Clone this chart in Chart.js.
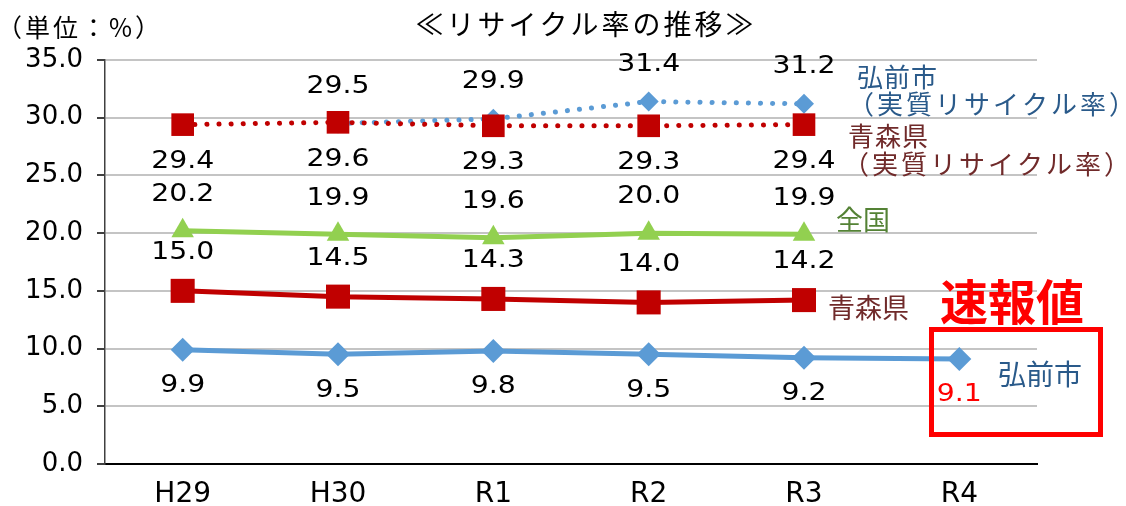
<!DOCTYPE html>
<html><head><meta charset="utf-8">
<script src="https://cdn.jsdelivr.net/npm/chart.js@4.4.1/dist/chart.umd.min.js"></script>
<style>html,body{margin:0;padding:0;background:#fff;}#wrap{width:1126px;height:506px;}</style>
</head><body><div id="wrap"><canvas id="c" width="1126" height="506"></canvas></div>
<script>
const categories = ['H29','H30','R1','R2','R3','R4'];
const hirosaki = [9.9, 9.5, 9.8, 9.5, 9.2, 9.1];
const aomori = [15.0, 14.5, 14.3, 14.0, 14.2, null];
const zenkoku = [20.2, 19.9, 19.6, 20.0, 19.9, null];
const aomoriJisshitsu = [29.4, 29.6, 29.3, 29.3, 29.4, null];
const hirosakiJisshitsu = [null, 29.5, 29.9, 31.4, 31.2, null];
const yMin = 0, yMax = 35, yStep = 5;
const titleText = '≪リサイクル率の推移≫';
const unitText = '（単位：%）';
const flashLabel = '速報値';

const BLUE = '#5B9BD5', RED = '#C00000', GREEN = '#92D050';
const NUMFONT = '"DejaVu Sans", sans-serif';
const JPFONT = '"Noto Sans CJK JP", sans-serif';

function spacing(ctx, px) { try { ctx.letterSpacing = px + 'px'; } catch (e) {} }

const labelPlugin = {
  id: 'labels',
  afterDatasetsDraw(chart) {
    const ctx = chart.ctx;
    chart.data.datasets.forEach((ds, i) => {
      const meta = chart.getDatasetMeta(i);
      meta.data.forEach((pt, j) => {
        const v = ds.data[j];
        if (v == null) return;
        ctx.save();
        ctx.font = '24px ' + NUMFONT;
        ctx.fillStyle = (ds.labelColors && ds.labelColors[j]) || '#000';
        ctx.textAlign = 'center';
        ctx.textBaseline = 'middle';
        ctx.translate(pt.x, pt.y + ds.labelOffset);
        ctx.scale(1.18, 1);
        ctx.fillText(v.toFixed(1), 0, 0);
        ctx.restore();
      });
    });
  },
  afterDraw(chart) {
    const ctx = chart.ctx;
    ctx.save();
    ctx.textBaseline = 'middle';
    // title
    ctx.font = '28px ' + JPFONT;
    ctx.fillStyle = '#000';
    ctx.textAlign = 'center';
    spacing(ctx, 3);
    ctx.fillText(titleText, 586, 24);
    ctx.textAlign = 'left';
    ctx.font = '25px ' + JPFONT;
    spacing(ctx, 3);
    ctx.fillText(unitText, -3, 27);
    // series names
    ctx.font = '26px ' + JPFONT;
    ctx.fillStyle = '#2A5A8A';
    spacing(ctx, 1);
    ctx.fillText('弘前市', 857, 77);
    spacing(ctx, 3);
    ctx.fillText('（実質リサイクル率）', 848, 104);
    ctx.fillStyle = '#702A2A';
    spacing(ctx, 1);
    ctx.fillText('青森県', 848, 136);
    spacing(ctx, 3);
    ctx.fillText('（実質リサイクル率）', 843, 164);
    spacing(ctx, 0);
    ctx.font = '28px ' + JPFONT;
    ctx.fillStyle = '#2A5A8A';
    ctx.fillText('弘前市', 998, 374);
    ctx.font = '27px ' + JPFONT;
    ctx.fillStyle = '#702A2A';
    ctx.fillText('青森県', 828, 308);
    ctx.fillStyle = '#548235';
    ctx.fillText('全国', 836, 220);
    // flash label
    ctx.fillStyle = '#FF0000';
    ctx.font = 'bold 48px ' + JPFONT;
    ctx.fillText(flashLabel, 940, 302);
    ctx.strokeStyle = '#FF0000';
    ctx.lineWidth = 5;
    ctx.strokeRect(931.5, 329.5, 169, 105);
    ctx.restore();
  }
};

new Chart(document.getElementById('c'), {
  type: 'line',
  data: {
    labels: categories,
    datasets: [
      { label: '弘前市', data: hirosaki, borderColor: BLUE, backgroundColor: BLUE,
        borderWidth: 5, pointStyle: 'rectRot', pointRadius: 12, pointBorderWidth: 0,
        labelOffset: 36, labelColors: [null, null, null, null, null, '#FF0000'] },
      { label: '青森県', data: aomori, borderColor: RED, backgroundColor: RED,
        borderWidth: 5, pointStyle: 'rect', pointRadius: 17, pointBorderWidth: 0,
        labelOffset: -38 },
      { label: '全国', data: zenkoku, borderColor: GREEN, backgroundColor: GREEN,
        borderWidth: 5, pointStyle: 'triangle', pointRadius: 13, pointBorderWidth: 0,
        labelOffset: -36 },
      { label: '青森県（実質リサイクル率）', data: aomoriJisshitsu, borderColor: RED, backgroundColor: RED,
        borderWidth: 5, borderDash: [0.1, 12], borderCapStyle: 'round',
        pointStyle: 'rect', pointRadius: 16, pointBorderWidth: 0, labelOffset: 37 },
      { label: '弘前市（実質リサイクル率）', data: hirosakiJisshitsu, borderColor: BLUE, backgroundColor: BLUE,
        borderWidth: 5, borderDash: [0.1, 12], borderCapStyle: 'round',
        pointStyle: 'rectRot', pointRadius: 10, pointBorderWidth: 0, labelOffset: -37 }
    ]
  },
  options: {
    responsive: false,
    devicePixelRatio: 1,
    animation: false,
    layout: { padding: { top: 60, right: 89, left: 0, bottom: 0 } },
    plugins: { legend: { display: false }, tooltip: { enabled: false }, title: { display: false } },
    elements: { line: { tension: 0 } },
    scales: {
      x: {
        offset: true,
        grid: { display: false, drawTicks: false },
        border: { display: true, color: '#000', width: 2 },
        ticks: { font: { family: NUMFONT, size: 28 }, color: '#000', padding: 14 },
        afterFit(s) { s.height = 42; }
      },
      y: {
        min: yMin, max: yMax,
        grid: { color: '#C4C4C4', lineWidth: 2, tickLength: 8, tickColor: '#404040' },
        border: { display: true, color: '#404040', width: 1.5 },
        ticks: { stepSize: yStep, font: { family: NUMFONT, size: 26 }, color: '#000', padding: 14,
                 callback: v => Number(v).toFixed(1) },
        afterFit(s) { s.width = 105; }
      }
    }
  },
  plugins: [labelPlugin]
});
</script>
</body></html>
